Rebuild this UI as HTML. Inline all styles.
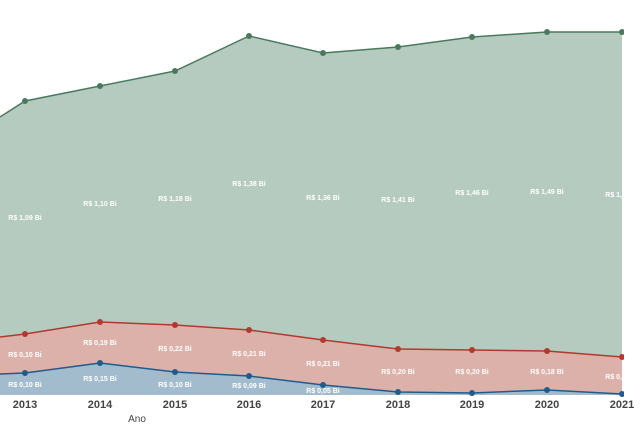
<!DOCTYPE html>
<html><head><meta charset="utf-8"><style>
html,body{margin:0;padding:0;background:#fff;}
svg{display:block;}
.l{font-family:"Liberation Sans",sans-serif;font-size:7px;font-weight:bold;fill:#fff;text-anchor:middle;}
.x{font-family:"Liberation Sans",sans-serif;font-size:11px;font-weight:bold;fill:#444;text-anchor:middle;}
</style></head><body>
<svg width="640" height="426" viewBox="0 0 640 426">
<defs><clipPath id="c"><rect x="0" y="0" width="624" height="426"/></clipPath></defs>
<g clip-path="url(#c)">
<polygon fill="#b5cbbf" points="0,117 25,101 100,86 175,71 249,36 323,53 398,47 472,37 547,32 622,32 622,394 0,394"/>
<polygon fill="#dbb1aa" points="0,337 25,334 100,322 175,325 249,330 323,340 398,349 472,350 547,351 622,357 622,394 0,394"/>
<polygon fill="#a3bccd" points="0,374 25,373 100,363 175,372 249,376 323,385 398,392 472,393 547,390 622,394 622,395 0,395"/>
<polyline fill="none" stroke="#4a7a5e" stroke-width="1.5" points="0,117 25,101 100,86 175,71 249,36 323,53 398,47 472,37 547,32 622,32"/>
<polyline fill="none" stroke="#b03a2e" stroke-width="1.5" points="0,337 25,334 100,322 175,325 249,330 323,340 398,349 472,350 547,351 622,357"/>
<polyline fill="none" stroke="#1f5c8c" stroke-width="1.5" points="0,374 25,373 100,363 175,372 249,376 323,385 398,392 472,393 547,390 622,394"/>
<g fill="#4a7a5e"><circle cx="25" cy="101" r="3"/><circle cx="100" cy="86" r="3"/><circle cx="175" cy="71" r="3"/><circle cx="249" cy="36" r="3"/><circle cx="323" cy="53" r="3"/><circle cx="398" cy="47" r="3"/><circle cx="472" cy="37" r="3"/><circle cx="547" cy="32" r="3"/><circle cx="622" cy="32" r="3"/></g>
<g fill="#b03a2e"><circle cx="25" cy="334" r="3"/><circle cx="100" cy="322" r="3"/><circle cx="175" cy="325" r="3"/><circle cx="249" cy="330" r="3"/><circle cx="323" cy="340" r="3"/><circle cx="398" cy="349" r="3"/><circle cx="472" cy="350" r="3"/><circle cx="547" cy="351" r="3"/><circle cx="622" cy="357" r="3"/></g>
<g fill="#1f5c8c"><circle cx="25" cy="373" r="3"/><circle cx="100" cy="363" r="3"/><circle cx="175" cy="372" r="3"/><circle cx="249" cy="376" r="3"/><circle cx="323" cy="385" r="3"/><circle cx="398" cy="392" r="3"/><circle cx="472" cy="393" r="3"/><circle cx="547" cy="390" r="3"/><circle cx="622" cy="394" r="3"/></g>
<text class="l" x="25" y="220">R$ 1,09 Bi</text>
<text class="l" x="100" y="206">R$ 1,10 Bi</text>
<text class="l" x="175" y="201">R$ 1,18 Bi</text>
<text class="l" x="249" y="186">R$ 1,38 Bi</text>
<text class="l" x="323" y="200">R$ 1,36 Bi</text>
<text class="l" x="398" y="202">R$ 1,41 Bi</text>
<text class="l" x="472" y="195">R$ 1,46 Bi</text>
<text class="l" x="547" y="194">R$ 1,49 Bi</text>
<text class="l" x="622" y="197">R$ 1,50 Bi</text>
<text class="l" x="25" y="357">R$ 0,10 Bi</text>
<text class="l" x="100" y="345">R$ 0,19 Bi</text>
<text class="l" x="175" y="351">R$ 0,22 Bi</text>
<text class="l" x="249" y="356">R$ 0,21 Bi</text>
<text class="l" x="323" y="366">R$ 0,21 Bi</text>
<text class="l" x="398" y="374">R$ 0,20 Bi</text>
<text class="l" x="472" y="374">R$ 0,20 Bi</text>
<text class="l" x="547" y="374">R$ 0,18 Bi</text>
<text class="l" x="622" y="379">R$ 0,17 Bi</text>
<text class="l" x="25" y="387">R$ 0,10 Bi</text>
<text class="l" x="100" y="381">R$ 0,15 Bi</text>
<text class="l" x="175" y="387">R$ 0,10 Bi</text>
<text class="l" x="249" y="388">R$ 0,09 Bi</text>
<text class="l" x="323" y="393">R$ 0,05 Bi</text>
</g>
<text class="x" x="25" y="408">2013</text>
<text class="x" x="100" y="408">2014</text>
<text class="x" x="175" y="408">2015</text>
<text class="x" x="249" y="408">2016</text>
<text class="x" x="323" y="408">2017</text>
<text class="x" x="398" y="408">2018</text>
<text class="x" x="472" y="408">2019</text>
<text class="x" x="547" y="408">2020</text>
<text class="x" x="622" y="408">2021</text>
<text class="x" x="137" y="422" style="font-weight:normal;font-size:10px">Ano</text>
</svg>
</body></html>
